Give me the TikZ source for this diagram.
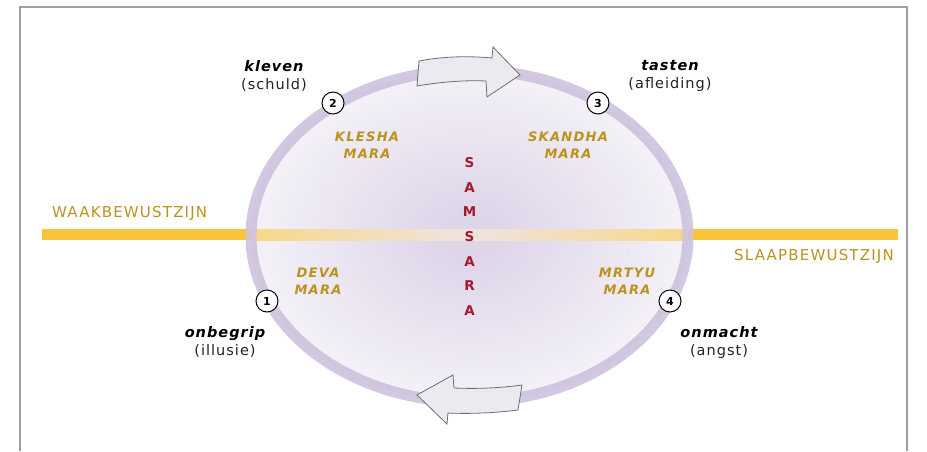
\documentclass[tikz,border=0pt]{standalone}
\usepackage{fontspec}
\setmainfont{DejaVu Sans}
\newfontfamily\stagefont[LetterSpace=7]{DejaVu Sans}
\newfontfamily\marafont[LetterSpace=10]{DejaVu Sans}
\newfontfamily\capsfont[LetterSpace=8]{DejaVu Sans}

\definecolor{gold}{RGB}{186,146,28}
\definecolor{bandyel}{RGB}{247,196,62}
\definecolor{bandedge}{RGB}{247,216,136}
\definecolor{bandmid}{RGB}{238,227,226}
\definecolor{ringlav}{RGB}{206,194,222}
\definecolor{samred}{RGB}{163,26,43}
\definecolor{samcore}{RGB}{222,213,233}
\definecolor{samsoft}{RGB}{249,248,251}
\definecolor{samrim}{RGB}{254,254,255}
\definecolor{arrowfill}{RGB}{236,234,241}
\definecolor{arrowline}{RGB}{110,110,110}
\definecolor{framegrey}{RGB}{160,160,160}
\definecolor{softblack}{RGB}{35,35,35}

\pgfdeclareradialshading{samsarafill}{\pgfpoint{0bp}{0bp}}{%
  color(0bp)=(samcore); color(3bp)=(samcore); color(30bp)=(samsoft);
  color(50bp)=(samrim); color(80bp)=(samrim)}

\tikzset{
  stage/.style={align=center, text=softblack, inner sep=0pt,
    font=\stagefont\fontsize{14.5}{18}\selectfont},
  mara/.style={align=center, text=gold, inner sep=0pt,
    font=\marafont\bfseries\itshape\fontsize{13}{17}\selectfont},
  realm/.style={text=gold, inner sep=0pt, font=\capsfont\fontsize{15}{15}\selectfont},
  num/.style={circle, draw=black, line width=1pt, fill=white, minimum size=22pt,
    inner sep=0pt, font=\bfseries\fontsize{11}{11}\selectfont},
  blockarrow/.style={fill=arrowfill, draw=arrowline, line width=0.8pt, line join=miter},
}

\begin{document}
\begin{tikzpicture}[x=1pt, y=-1pt]
  \useasboundingbox (0,0) rectangle (927,451);

  % frame
  \draw[framegrey, line width=1.5pt] (20,451) |- (907,7) -- (907,451);

  % waking / sleeping band
  \fill[bandyel] (42,229) rectangle (898,240);

  % samsara field
  \path[shading=samsarafill] (469.5,236) ellipse [x radius=218.5pt, y radius=166pt];
  \begin{scope}
    \clip (469.5,236) ellipse [x radius=218.5pt, y radius=166pt];
    \shade[left color=bandedge, right color=bandedge, middle color=bandmid]
      (251,229) rectangle (688,240);
  \end{scope}
  \draw[ringlav, line width=11pt, draw opacity=0.9]
    (469.5,236) ellipse [x radius=218.5pt, y radius=166pt];

  % turning arrows
  \draw[blockarrow] (419,61) .. controls (445,56) and (470,56) .. (492,58)
    -- (493,47) -- (520,75) -- (487,97) -- (486,81)
    .. controls (465,80) and (440,82) .. (417,86) -- cycle;
  \draw[blockarrow] (417,395) -- (453,375) -- (454,388)
    .. controls (478,389) and (500,388) .. (522,385)
    -- (518,410) .. controls (495,413) and (470,414) .. (448,413)
    -- (447,424) -- cycle;

  % stations on the wheel
  \node[num] (n1) at (267,301) {1};
  \node[num] (n2) at (333,103) {2};
  \node[num] (n3) at (598,103) {3};
  \node[num] (n4) at (670,301) {4};

  \node[stage] (kleven)   at (274,76)  {\textcolor{black}{\bfseries\itshape kleven}\\(schuld)};
  \node[stage] (tasten)   at (670,76)  {\textcolor{black}{\bfseries\itshape tasten}\\(afleiding)};
  \node[stage] (onbegrip) at (225,342) {\textcolor{black}{\bfseries\itshape onbegrip}\\(illusie)};
  \node[stage] (onmacht)  at (719,342) {\textcolor{black}{\bfseries\itshape onmacht}\\(angst)};

  % the four maras
  \node[mara] (klesha)  at (367,145) {KLESHA\\MARA};
  \node[mara] (skandha) at (568,145) {SKANDHA\\MARA};
  \node[mara] (deva)    at (318,281) {DEVA\\MARA};
  \node[mara] (mrtyu)   at (627,281) {MRTYU\\MARA};

  % centre word
  \node[align=center, text=samred, inner sep=0pt,
        font=\bfseries\fontsize{13.5}{24.6}\selectfont] (samsara) at (469.5,236.5)
        {S\\A\\M\\S\\A\\R\\A};

  % band labels
  \node[realm, anchor=west] (waak)  at (52,213)  {WAAKBEWUSTZIJN};
  \node[realm, anchor=east] (slaap) at (894,256) {SLAAPBEWUSTZIJN};
\end{tikzpicture}
\end{document}
